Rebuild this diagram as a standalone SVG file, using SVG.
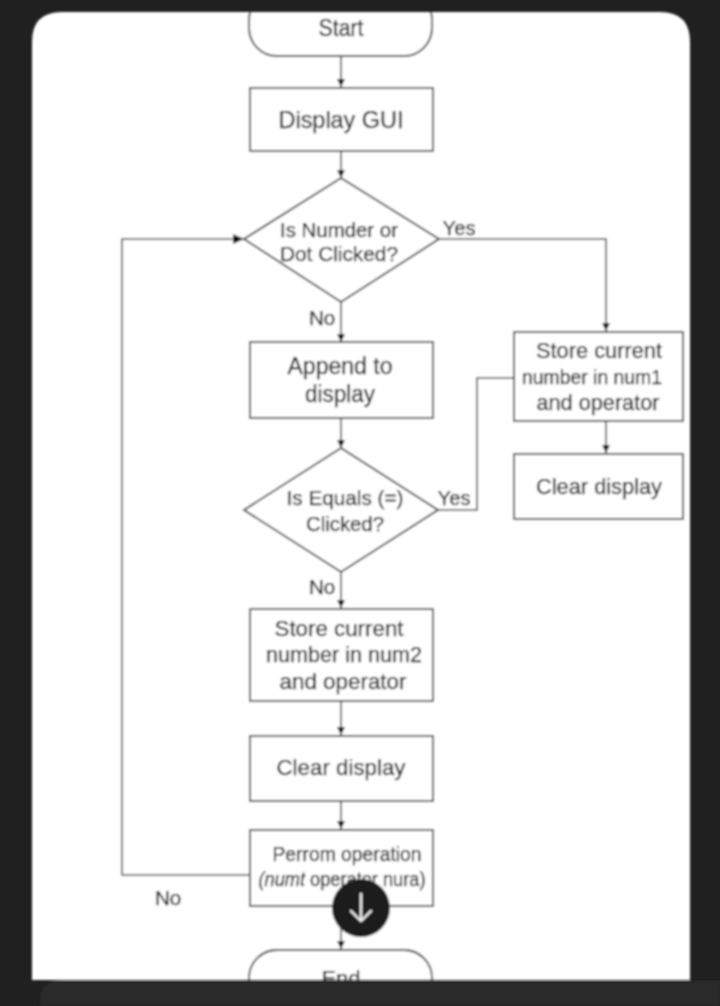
<svg xmlns="http://www.w3.org/2000/svg" width="720" height="1006" viewBox="0 0 720 1006">
<style>
.s{fill:#fff;stroke:#333;stroke-width:1.8}
.c{fill:none;stroke:#444;stroke-width:1.6}
text{font-family:"Liberation Sans",Arial,sans-serif;font-size:22px;fill:#111;stroke:#111;stroke-width:.25;text-anchor:middle}
.m{font-size:20.500px}
</style>
<defs>
<marker id="a" markerUnits="userSpaceOnUse" markerWidth="9" markerHeight="9" refX="8" refY="4.500" orient="auto"><path d="M0 .5L8 4.500L0 8.500z" fill="#111"/></marker>
<marker id="b" markerUnits="userSpaceOnUse" markerWidth="12" markerHeight="12" refX="11" refY="6" orient="auto"><path d="M0 1L11 6L0 11z" fill="#111"/></marker>
<clipPath id="p"><path d="M32 980V42Q32 12 62 12H660Q690 12 690 42V980z"/></clipPath>
<filter id="blur" filterUnits="userSpaceOnUse" x="0" y="0" width="720" height="1006"><feGaussianBlur stdDeviation=".8"/></filter>
</defs>
<rect width="720" height="1006" fill="#202020"/>
<g filter="url(#blur)">
<path d="M32 980V42Q32 12 62 12H660Q690 12 690 42V980z" fill="#fff"/>
<path d="M40 1006V1000Q40 981 62 981H720V1006z" fill="#2c2c2c"/>
<g clip-path="url(#p)">
<g id="connectors">
<path class="c" marker-end="url(#a)" d="M341 56V87"/>
<path class="c" marker-end="url(#a)" d="M341 151V178"/>
<path class="c" marker-end="url(#a)" d="M341 302V342"/>
<path class="c" marker-end="url(#a)" d="M341 418V448"/>
<path class="c" marker-end="url(#a)" d="M341 572V608"/>
<path class="c" marker-end="url(#a)" d="M341 701V735"/>
<path class="c" marker-end="url(#a)" d="M341 801V829"/>
<path class="c" marker-end="url(#a)" d="M341 906V949"/>
<path class="c" marker-end="url(#a)" d="M439 239H606V331"/>
<path class="c" marker-end="url(#a)" d="M606 421V453"/>
<path class="c" d="M437 510H477V378H514"/>
<path class="c" marker-end="url(#b)" d="M250 875H122V239H244"/>
</g>
<g id="start"><rect class="s" x="249" y="-8" width="183" height="64" rx="28"/><text x="341" y="36" textLength="45" lengthAdjust="spacingAndGlyphs" style="font-size:23px">Start</text></g>
<g id="display-gui"><rect class="s" x="250" y="88" width="183" height="63"/><text x="341" y="128" textLength="125" lengthAdjust="spacingAndGlyphs" style="font-size:24px">Display GUI</text></g>
<g id="decision-number"><path class="s" d="M341 178L439 239L341 302L244 239z"/><text class="m" x="339" y="237" textLength="118" lengthAdjust="spacingAndGlyphs">Is Numder or</text><text class="m" x="339" y="261" textLength="118" lengthAdjust="spacingAndGlyphs">Dot Clicked?</text></g>
<g id="append"><rect class="s" x="250" y="342" width="183" height="76"/><text x="340" y="374" textLength="105" lengthAdjust="spacingAndGlyphs" style="font-size:23px">Append to</text><text x="340" y="402" textLength="70" lengthAdjust="spacingAndGlyphs" style="font-size:23px">display</text></g>
<g id="decision-equals"><path class="s" d="M341 448L438 510L341 572L244 510z"/><text class="m" x="345" y="505" textLength="117" lengthAdjust="spacingAndGlyphs">Is Equals (=)</text><text class="m" x="345" y="531" textLength="78" lengthAdjust="spacingAndGlyphs">Clicked?</text></g>
<g id="store-num2"><rect class="s" x="250" y="609" width="183" height="92"/><text x="339" y="636" textLength="129" lengthAdjust="spacingAndGlyphs">Store current</text><text x="344" y="662" textLength="156" lengthAdjust="spacingAndGlyphs">number in num2</text><text x="343" y="689" textLength="127" lengthAdjust="spacingAndGlyphs">and operator</text></g>
<g id="clear-left"><rect class="s" x="250" y="736" width="183" height="65"/><text x="341" y="775" textLength="129" lengthAdjust="spacingAndGlyphs">Clear display</text></g>
<g id="perform"><rect class="s" x="250" y="830" width="183" height="76"/><text class="m" x="347" y="861" textLength="149" lengthAdjust="spacingAndGlyphs">Perrom operation</text><text class="m" x="342" y="886" textLength="167" lengthAdjust="spacingAndGlyphs"><tspan font-style="italic">(numt</tspan> operator nura)</text></g>
<g id="store-num1"><rect class="s" x="514" y="332" width="169" height="89"/><text x="599" y="358" textLength="126" lengthAdjust="spacingAndGlyphs">Store current</text><text x="592" y="384" textLength="140" lengthAdjust="spacingAndGlyphs" style="font-size:21px">number in num1</text><text x="598" y="410" textLength="123" lengthAdjust="spacingAndGlyphs">and operator</text></g>
<g id="clear-right"><rect class="s" x="514" y="454" width="169" height="65"/><text x="599" y="494" textLength="126" lengthAdjust="spacingAndGlyphs">Clear display</text></g>
<g id="end"><rect class="s" x="249" y="950" width="183" height="64" rx="28"/><text x="341" y="986">End</text></g>
<g id="labels">
<text class="m" x="459" y="235" textLength="33" lengthAdjust="spacingAndGlyphs">Yes</text>
<text class="m" x="322" y="325">No</text>
<text class="m" x="454" y="505" textLength="33" lengthAdjust="spacingAndGlyphs">Yes</text>
<text class="m" x="322" y="594">No</text>
<text class="m" x="168" y="905">No</text>
</g>
</g>
<g id="scroll-button"><circle cx="361" cy="908" r="29" fill="#1c1c1c"/><path d="M361 894V920M351 911L361 921L371 911" fill="none" stroke="#eee" stroke-width="2.400" stroke-linecap="round" stroke-linejoin="round"/></g>
</g>
</svg>
